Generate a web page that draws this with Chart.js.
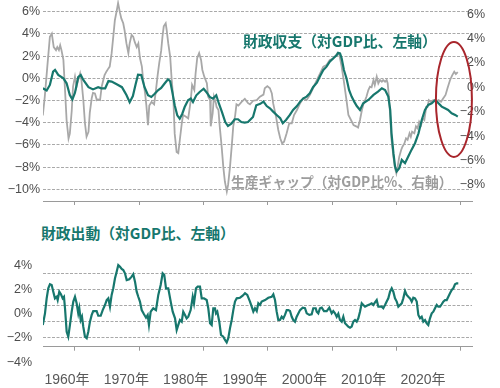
<!DOCTYPE html>
<html>
<head>
<meta charset="utf-8">
<script src="https://cdn.jsdelivr.net/npm/chart.js@4.4.1/dist/chart.umd.min.js"></script>
<style>
  body { margin: 0; background: #fff; width: 500px; height: 388px; position: relative; overflow: hidden; }
  canvas { position: absolute; left: 0; }
  #topChart { top: 0; }
  #bottomChart { top: 250px; }
  .note { position: absolute; white-space: nowrap; font-family: "Noto Sans CJK JP", sans-serif; font-weight: bold; line-height: 1; }
</style>
</head>
<body>
<canvas id="topChart" width="500" height="210"></canvas>
<canvas id="bottomChart" width="500" height="138"></canvas>
<div class="note" id="noteBalance" style="left:243px;top:34px;font-size:14.8px;color:#17776d">財政収支（対GDP比、左軸）</div>
<div class="note" id="noteGap" style="left:231px;top:175px;font-size:13.8px;color:#9d9d9d">生産ギャップ（対GDP比%、右軸）</div>
<div class="note" id="noteStim" style="left:41px;top:226px;font-size:14.8px;color:#17776d">財政出動（対GDP比、左軸）</div>
<script>
// [year, % of GDP]
const balancePoints = [
  [1955.0,-0.9],[1955.6,-1.1],[1956.1,-0.6],[1956.6,0.6],[1956.9,0.75],[1957.4,0.3],[1958.2,0.0],[1958.7,-0.45],
  [1959.2,-1.5],[1959.6,-1.9],[1960.0,-1.3],[1960.5,0.1],[1960.9,0.3],[1961.3,-0.15],[1962.1,-0.8],[1962.8,-1.0],
  [1963.6,-0.8],[1964.1,-0.9],[1964.7,-0.9],[1965.2,-0.25],[1965.7,-0.3],[1966.2,-0.45],[1966.7,-0.6],[1967.3,-0.8],
  [1967.7,-1.2],[1968.0,-1.5],[1968.5,-2.15],[1969.0,-1.6],[1969.4,-0.6],[1969.8,0.33],[1970.3,0.3],[1970.8,-0.78],
  [1971.35,-1.53],[1971.86,-1.68],[1972.4,-1.39],[1972.9,-1.08],[1973.4,-0.87],[1973.9,-0.49],[1974.46,-0.09],
  [1974.8,-0.27],[1975.13,-1.23],[1975.5,-2.43],[1975.9,-3.33],[1976.28,-3.64],[1976.68,-3.19],[1977.05,-2.59],
  [1977.57,-1.98],[1978.0,-1.83],[1978.34,-2.14],[1978.86,-1.53],[1979.38,-1.23],[1980.0,-0.94],[1980.41,-1.23],
  [1980.94,-1.68],[1981.45,-1.83],[1981.96,-1.53],[1982.38,-2.29],[1982.85,-3.04],[1983.36,-3.94],[1983.78,-4.3],
  [1984.3,-4.09],[1984.83,-3.69],[1985.34,-3.69],[1985.85,-3.94],[1986.38,-4.0],[1986.89,-3.94],[1987.67,-3.49],
  [1988.18,-2.43],[1988.8,-2.3],[1989.3,-2.1],[1989.8,-2.5],[1990.3,-2.7],[1990.8,-3.0],[1991.35,-3.3],[1991.9,-3.6],
  [1992.3,-4.05],[1992.8,-3.75],[1993.4,-3.3],[1993.9,-2.85],[1994.5,-2.5],[1995.0,-2.1],[1995.5,-1.8],[1996.0,-1.65],
  [1996.5,-1.35],[1997.0,-0.8],[1997.6,-0.4],[1998.1,0.2],[1998.6,0.75],[1999.1,1.05],[1999.6,1.5],[2000.15,1.8],
  [2000.7,2.1],[2000.9,2.3],[2001.2,2.25],[2001.45,1.8],[2001.8,0.75],[2002.2,0.0],[2002.6,-1.05],[2003.0,-1.65],
  [2003.4,-2.1],[2003.8,-2.5],[2004.3,-2.85],[2004.8,-2.25],[2005.6,-1.95],[2006.4,-1.5],[2007.1,-1.2],[2007.7,-0.9],
  [2008.2,-1.05],[2008.7,-1.65],[2009.0,-2.85],[2009.2,-4.95],[2009.5,-6.75],[2009.75,-7.95],[2010.0,-8.4],
  [2010.4,-8.1],[2010.8,-7.35],[2011.3,-7.65],[2011.8,-7.05],[2012.3,-6.45],[2012.85,-5.85],[2013.4,-4.95],
  [2013.9,-3.75],[2014.4,-2.85],[2014.9,-2.4],[2015.45,-2.25],[2016.0,-1.95],[2016.5,-2.25],[2017.0,-2.55],
  [2017.5,-2.7],[2018.0,-2.85],[2018.55,-3.15],[2019.1,-3.3],[2019.5,-3.45]
];

const gapPoints = [
  [1955.0,-2.3],[1955.3,-0.8],[1955.7,1.7],[1956.1,4.15],[1956.4,4.4],[1956.7,3.3],[1957.05,3.05],[1957.25,3.3],
  [1957.5,3.05],[1957.7,3.45],[1957.9,3.05],[1958.2,2.25],[1958.4,0.3],[1958.7,-2.7],[1959.0,-4.2],[1959.2,-3.8],
  [1959.5,-1.9],[1959.7,0.05],[1960.0,0.87],[1960.25,0.05],[1960.5,0.6],[1960.8,1.15],[1961.0,0.6],[1961.3,-1.05],
  [1961.55,-2.95],[1961.8,-4.05],[1962.1,-3.65],[1962.3,-2.1],[1962.6,-0.9],[1962.8,-0.45],[1963.1,-0.5],
  [1963.4,-1.05],[1963.6,-1.0],[1963.9,-1.05],[1964.15,0.05],[1964.4,0.6],[1964.6,1.0],[1964.9,1.3],[1965.2,1.55],
  [1965.4,1.7],[1965.7,2.8],[1966.0,4.4],[1966.2,5.5],[1966.5,6.3],[1966.7,6.9],[1967.0,6.1],[1967.2,5.65],
  [1967.5,5.25],[1967.7,4.7],[1968.0,3.6],[1968.3,2.8],[1968.5,3.6],[1968.8,4.3],[1969.05,4.15],[1969.3,3.7],
  [1969.6,3.3],[1969.85,3.6],[1970.1,2.4],[1970.4,1.7],[1970.6,0.6],[1970.9,-0.5],[1971.1,-1.5],[1971.35,-3.1],
  [1971.55,-1.5],[1971.9,-1.2],[1972.3,-1.4],[1972.55,-0.4],[1972.85,1.0],[1973.1,2.0],[1973.4,3.0],[1973.6,4.15],
  [1973.8,5.0],[1974.1,5.25],[1974.25,4.7],[1974.5,3.6],[1974.8,2.5],[1975.0,0.87],[1975.3,-1.05],[1975.5,-3.8],
  [1975.8,-5.3],[1976.06,-5.4],[1976.3,-4.3],[1976.6,-2.95],[1976.8,-2.27],[1977.2,-2.4],[1977.6,-2.55],
  [1978.0,-1.05],[1978.2,0.2],[1978.55,-0.22],[1978.75,1.15],[1979.0,2.4],[1979.3,2.8],[1979.6,2.24],[1979.8,1.42],
  [1980.1,0.87],[1980.5,0.33],[1980.7,-0.77],[1981.0,-1.05],[1981.1,-3.2],[1981.4,-2.13],[1981.6,-0.77],
  [1981.9,-1.3],[1982.0,-1.6],[1982.3,-1.86],[1982.5,-3.2],[1982.8,-4.87],[1983.05,-6.5],[1983.3,-7.74],
  [1983.6,-8.55],[1983.8,-8.0],[1984.1,-6.5],[1984.4,-4.6],[1984.6,-3.2],[1984.9,-2.3],[1985.1,-1.4],[1985.4,-1.5],
  [1985.9,-1.2],[1986.4,-0.95],[1986.9,-1.3],[1987.2,-1.4],[1987.7,-1.1],[1988.25,-1.05],[1988.75,-0.77],
  [1989.3,-0.6],[1989.5,-0.08],[1989.9,0.1],[1990.3,-0.08],[1990.6,-0.5],[1990.8,-1.3],[1991.25,-2.4],[1991.6,-3.5],
  [1991.9,-4.18],[1992.2,-4.6],[1992.5,-4.46],[1992.9,-3.77],[1993.3,-2.95],[1993.7,-2.95],[1994.05,-2.27],
  [1994.5,-1.86],[1995.0,-1.3],[1995.5,-0.9],[1996.0,-1.05],[1996.5,-0.63],[1997.0,-0.08],[1997.6,0.6],[1998.1,1.15],
  [1998.6,1.7],[1999.1,1.83],[1999.6,2.24],[2000.05,2.3],[2000.4,2.5],[2000.8,2.8],[2001.1,2.65],[2001.45,1.7],
  [2001.8,0.46],[2002.2,-1.05],[2002.5,-2.27],[2002.9,-2.68],[2003.3,-3.1],[2003.7,-3.2],[2004.0,-3.3],
  [2004.3,-2.68],[2004.6,-1.86],[2004.8,-1.45],[2005.1,-1.05],[2005.3,-0.77],[2005.6,-0.22],[2005.85,0.05],
  [2006.1,0.0],[2006.4,0.6],[2006.6,0.19],[2006.9,0.87],[2007.15,0.33],[2007.4,0.6],[2007.7,0.46],[2007.9,0.6],
  [2008.2,0.46],[2008.45,0.6],[2008.6,0.33],[2008.8,-0.77],[2009.0,-2.4],[2009.2,-4.3],[2009.5,-5.7],
  [2009.75,-6.64],[2009.95,-7.05],[2010.15,-6.5],[2010.4,-5.7],[2010.7,-5.14],[2010.9,-4.87],[2011.2,-4.6],
  [2011.45,-4.18],[2011.7,-4.3],[2012.0,-3.77],[2012.2,-4.05],[2012.4,-3.64],[2012.75,-3.77],[2013.0,-3.2],
  [2013.25,-3.36],[2013.5,-2.82],[2013.8,-3.1],[2014.05,-2.55],[2014.3,-2.68],[2014.6,-1.6],[2014.8,-1.6],
  [2015.0,-1.05],[2015.3,-1.18],[2015.7,-1.05],[2016.05,-1.18],[2016.5,-1.05],[2016.9,-1.18],[2017.25,-0.9],
  [2017.6,-0.63],[2017.9,-0.08],[2018.3,0.6],[2018.65,1.0],[2018.95,1.28],[2019.2,1.09],[2019.5,1.25]
];

const stimulusPoints = [
  [1955.0,-0.93],[1955.34,0.03],[1955.6,1.27],[1955.85,2.1],[1956.11,2.43],[1956.38,2.37],[1956.63,1.82],
  [1956.89,1.27],[1957.16,1.4],[1957.31,1.13],[1957.56,1.82],[1957.82,1.6],[1958.09,1.27],[1958.29,1.4],
  [1958.45,0.45],[1958.71,-1.49],[1958.96,-1.9],[1959.22,-0.93],[1959.49,0.17],[1959.74,1.0],[1960.0,1.4],
  [1960.26,0.86],[1960.51,0.03],[1960.67,0.45],[1960.89,-0.52],[1961.09,-0.25],[1961.29,-1.07],[1961.55,-1.9],
  [1961.82,-2.03],[1962.07,-1.49],[1962.33,-0.66],[1962.6,-0.1],[1962.84,0.22],[1963.37,0.22],[1963.62,-0.17],
  [1964.0,-0.17],[1964.31,0.3],[1964.66,0.72],[1964.93,1.13],[1965.18,1.27],[1965.44,0.58],[1965.7,1.55],
  [1965.95,2.1],[1966.22,2.93],[1966.48,3.47],[1966.73,4.02],[1967.0,3.88],[1967.26,3.7],[1967.51,3.61],
  [1967.77,3.34],[1968.04,2.78],[1968.44,2.85],[1968.81,3.06],[1969.06,3.26],[1969.33,2.65],[1969.59,1.82],
  [1969.84,1.4],[1970.1,1.0],[1970.37,0.3],[1970.73,-0.05],[1971.04,-0.33],[1971.3,-0.1],[1971.5,-0.93],
  [1971.77,0.17],[1972.17,0.45],[1972.59,0.3],[1972.95,1.55],[1973.32,2.37],[1973.63,3.34],[1973.88,3.2],
  [1974.15,2.1],[1974.5,2.1],[1974.88,1.0],[1975.19,0.17],[1975.55,-0.38],[1975.81,-1.35],[1976.06,-0.93],
  [1976.32,-0.52],[1976.59,-0.66],[1976.83,0.17],[1977.1,-0.1],[1977.36,-0.38],[1977.61,-0.25],[1977.98,0.3],
  [1978.3,1.4],[1978.5,0.86],[1978.81,2.1],[1979.07,2.23],[1979.43,2.23],[1979.7,1.27],[1980.05,1.27],
  [1980.47,1.13],[1980.72,0.45],[1980.99,-0.79],[1981.25,-0.93],[1981.5,0.45],[1981.76,0.45],[1981.92,0.03],
  [1982.12,0.17],[1982.43,-0.66],[1982.7,-1.76],[1983.05,-1.9],[1983.32,-2.17],[1983.58,-2.37],[1983.83,-2.03],
  [1984.09,-1.21],[1984.36,-0.52],[1984.61,0.3],[1984.87,1.0],[1985.14,1.27],[1985.65,1.32],[1986.07,1.49],
  [1986.43,1.69],[1986.78,1.55],[1987.2,1.0],[1987.47,0.58],[1987.72,0.17],[1987.98,0.45],[1988.25,0.22],
  [1988.5,0.86],[1988.76,0.72],[1989.02,1.0],[1989.54,1.13],[1990.05,1.32],[1990.58,1.4],[1990.83,1.6],
  [1991.09,1.13],[1991.35,0.17],[1991.6,-0.52],[1991.87,-0.52],[1992.13,-0.25],[1992.38,-0.4],[1992.64,-0.1],
  [1992.91,0.3],[1993.16,0.3],[1993.42,0.22],[1993.69,-0.25],[1993.93,-0.52],[1994.2,-0.66],[1994.46,-0.25],
  [1994.98,0.3],[1995.4,0.5],[1995.75,0.45],[1996.02,0.03],[1996.42,-0.1],[1996.79,-0.05],[1997.04,0.45],
  [1997.42,0.45],[1997.57,0.17],[1997.82,0.03],[1998.08,0.45],[1998.35,0.5],[1998.71,0.22],[1999.13,0.22],
  [1999.53,0.5],[1999.9,0.03],[2000.15,0.22],[2000.42,0.03],[2000.68,-0.25],[2000.93,0.0],[2001.19,-0.52],
  [2001.46,-0.66],[2001.71,-0.25],[2001.97,-0.79],[2002.24,-0.93],[2002.48,-1.07],[2002.75,-1.16],[2003.01,-1.07],
  [2003.26,-0.66],[2003.53,-0.52],[2003.79,-0.66],[2004.04,-0.38],[2004.3,0.17],[2004.57,0.86],[2004.82,0.72],
  [2005.08,0.58],[2005.34,0.66],[2005.59,0.72],[2005.86,0.78],[2006.12,0.86],[2006.37,0.72],[2006.63,0.94],
  [2006.9,1.13],[2007.15,0.58],[2007.41,0.58],[2007.68,0.58],[2007.92,0.45],[2008.19,0.72],[2008.45,1.0],
  [2008.7,1.27],[2008.97,1.82],[2009.23,2.1],[2009.48,1.82],[2009.74,1.27],[2010.01,1.0],[2010.26,0.58],
  [2010.52,0.72],[2010.79,0.86],[2011.03,1.27],[2011.3,1.88],[2011.56,1.55],[2011.81,1.4],[2012.07,1.27],
  [2012.34,1.0],[2012.59,1.32],[2012.85,1.27],[2013.12,1.0],[2013.37,-0.1],[2013.63,-0.38],[2013.89,-0.25],
  [2014.14,-0.66],[2014.41,-0.52],[2014.67,-0.79],[2014.92,-0.93],[2015.18,-0.38],[2015.45,0.03],[2015.7,0.17],
  [2015.96,0.45],[2016.23,0.72],[2016.47,0.58],[2016.74,0.58],[2017.0,0.78],[2017.25,1.0],[2017.52,1.13],
  [2017.78,1.13],[2018.03,1.4],[2018.29,1.69],[2018.56,1.96],[2018.81,2.1],[2019.07,2.43],[2019.33,2.51],
  [2019.58,2.51]
];

const decadeTicks = [1960, 1970, 1980, 1990, 2000, 2010, 2020];
const decadeLabels = ['1960年', '1970年', '1980年', '1990年', '2000年', '2010年', '2020年'];
const balanceTicks = [6, 4, 2, 0, -2, -4, -6, -8, -10];
const gapTicks = [6, 4, 2, 0, -2, -4, -6, -8];
const stimulusTicks = [4, 2, 0, -2, -4];
const stimulusGrid = [3.33, 2, 0.67, -0.67, -2];

const TEAL = '#17776d';
const GRAY = '#a8a8a8';
const GRID = '#a9a9a9';
const TICK_FONT = { family: '"Liberation Sans", "Noto Sans CJK JP", sans-serif', size: 12.5 };

const pct = v => (v < 0 ? '−' + Math.abs(v) : String(v)) + '%';
const toXY = pts => pts.map(p => ({ x: p[0], y: p[1] }));
const fixTicks = values => scale => { scale.ticks = values.map(v => ({ value: v })); };
const fixWidth = w => scale => { scale.width = w; scale.paddingTop = 0; scale.paddingBottom = 0; };
const fixHeight = h => scale => { scale.height = h; scale.paddingLeft = 0; scale.paddingRight = 0; };

// year axis with tick marks only
function yearAxis() {
  return {
    type: 'linear', position: 'bottom', min: 1955.03, max: 2021.71,
    afterBuildTicks: fixTicks(decadeTicks),
    afterFit: fixHeight(5),
    ticks: { display: false },
    grid: { drawOnChartArea: false, drawTicks: true, tickLength: 4, color: '#9a9a9a' },
    border: { display: true, color: '#9a9a9a', width: 1 }
  };
}

// red ring around the latest years
const ringPlugin = {
  id: 'ring',
  afterDatasetsDraw(chart) {
    const { ctx, scales } = chart;
    const cx = scales.x.getPixelForValue(2018.9);
    const cy = scales.y.getPixelForValue(-1.9);
    ctx.save();
    ctx.beginPath();
    ctx.ellipse(cx, cy, 18, 57.5, 0, 0, Math.PI * 2);
    ctx.strokeStyle = '#a8262c';
    ctx.lineWidth = 2;
    ctx.stroke();
    ctx.restore();
  }
};

new Chart(document.getElementById('topChart'), {
  type: 'line',
  data: {
    datasets: [
      { label: '財政収支', data: toXY(balancePoints), yAxisID: 'y', borderColor: TEAL, borderWidth: 2.2, pointRadius: 0, tension: 0 },
      { label: '生産ギャップ', data: toXY(gapPoints), yAxisID: 'y2', borderColor: GRAY, borderWidth: 1.8, pointRadius: 0, tension: 0 }
    ]
  },
  options: {
    responsive: false,
    animation: false,
    layout: { padding: { top: 0, right: 0, bottom: 4, left: 0 } },
    plugins: { legend: { display: false }, tooltip: { enabled: false } },
    scales: {
      x: yearAxis(),
      y: {
        position: 'left', min: -11.054, max: 7.054,
        afterBuildTicks: fixTicks(balanceTicks),
        afterFit: fixWidth(43),
        ticks: { callback: pct, color: '#4d4d4d', font: TICK_FONT, padding: 3 },
        grid: { color: GRID, drawTicks: false },
        border: { display: false, dash: [3, 1.5] }
      },
      y2: {
        position: 'right', min: -9.32, max: 7.156,
        afterBuildTicks: fixTicks(gapTicks),
        afterFit: fixWidth(28),
        ticks: { callback: pct, color: '#4d4d4d', font: TICK_FONT, mirror: true, padding: 13 },
        grid: { display: false },
        border: { display: false }
      }
    }
  },
  plugins: [ringPlugin]
});

new Chart(document.getElementById('bottomChart'), {
  type: 'line',
  data: {
    datasets: [
      { label: '財政出動', data: toXY(stimulusPoints), yAxisID: 'y', borderColor: TEAL, borderWidth: 2.2, pointRadius: 0, tension: 0 }
    ]
  },
  options: {
    responsive: false,
    animation: false,
    layout: { padding: { top: 4, right: 28, bottom: 0, left: 0 } },
    plugins: { legend: { display: false }, tooltip: { enabled: false } },
    scales: {
      x: yearAxis(),
      xl: {
        type: 'linear', position: 'bottom', weight: 1, min: 1955.955, max: 2028.26,
        afterBuildTicks: fixTicks(decadeTicks),
        afterFit: fixHeight(36.3),
        ticks: {
          callback: (v, i) => decadeLabels[i],
          color: '#595959', padding: 12, autoSkip: false, maxRotation: 0,
          font: { family: '"Liberation Sans", "Noto Sans CJK JP", sans-serif', size: 14 }
        },
        grid: { display: false },
        border: { display: false }
      },
      y: {
        position: 'left', min: -2.727, max: 4.934,
        afterBuildTicks: fixTicks(stimulusTicks),
        afterFit: fixWidth(43),
        ticks: { callback: pct, color: '#4d4d4d', font: TICK_FONT, padding: 3 },
        grid: { display: false },
        border: { display: false }
      },
      yg: {
        position: 'right', min: -2.727, max: 4.934,
        afterBuildTicks: fixTicks(stimulusGrid),
        afterFit: fixWidth(0),
        ticks: { display: false },
        grid: { color: GRID, drawTicks: false },
        border: { display: false, dash: [3, 1.5] }
      }
    }
  }
});
</script>
</body>
</html>
